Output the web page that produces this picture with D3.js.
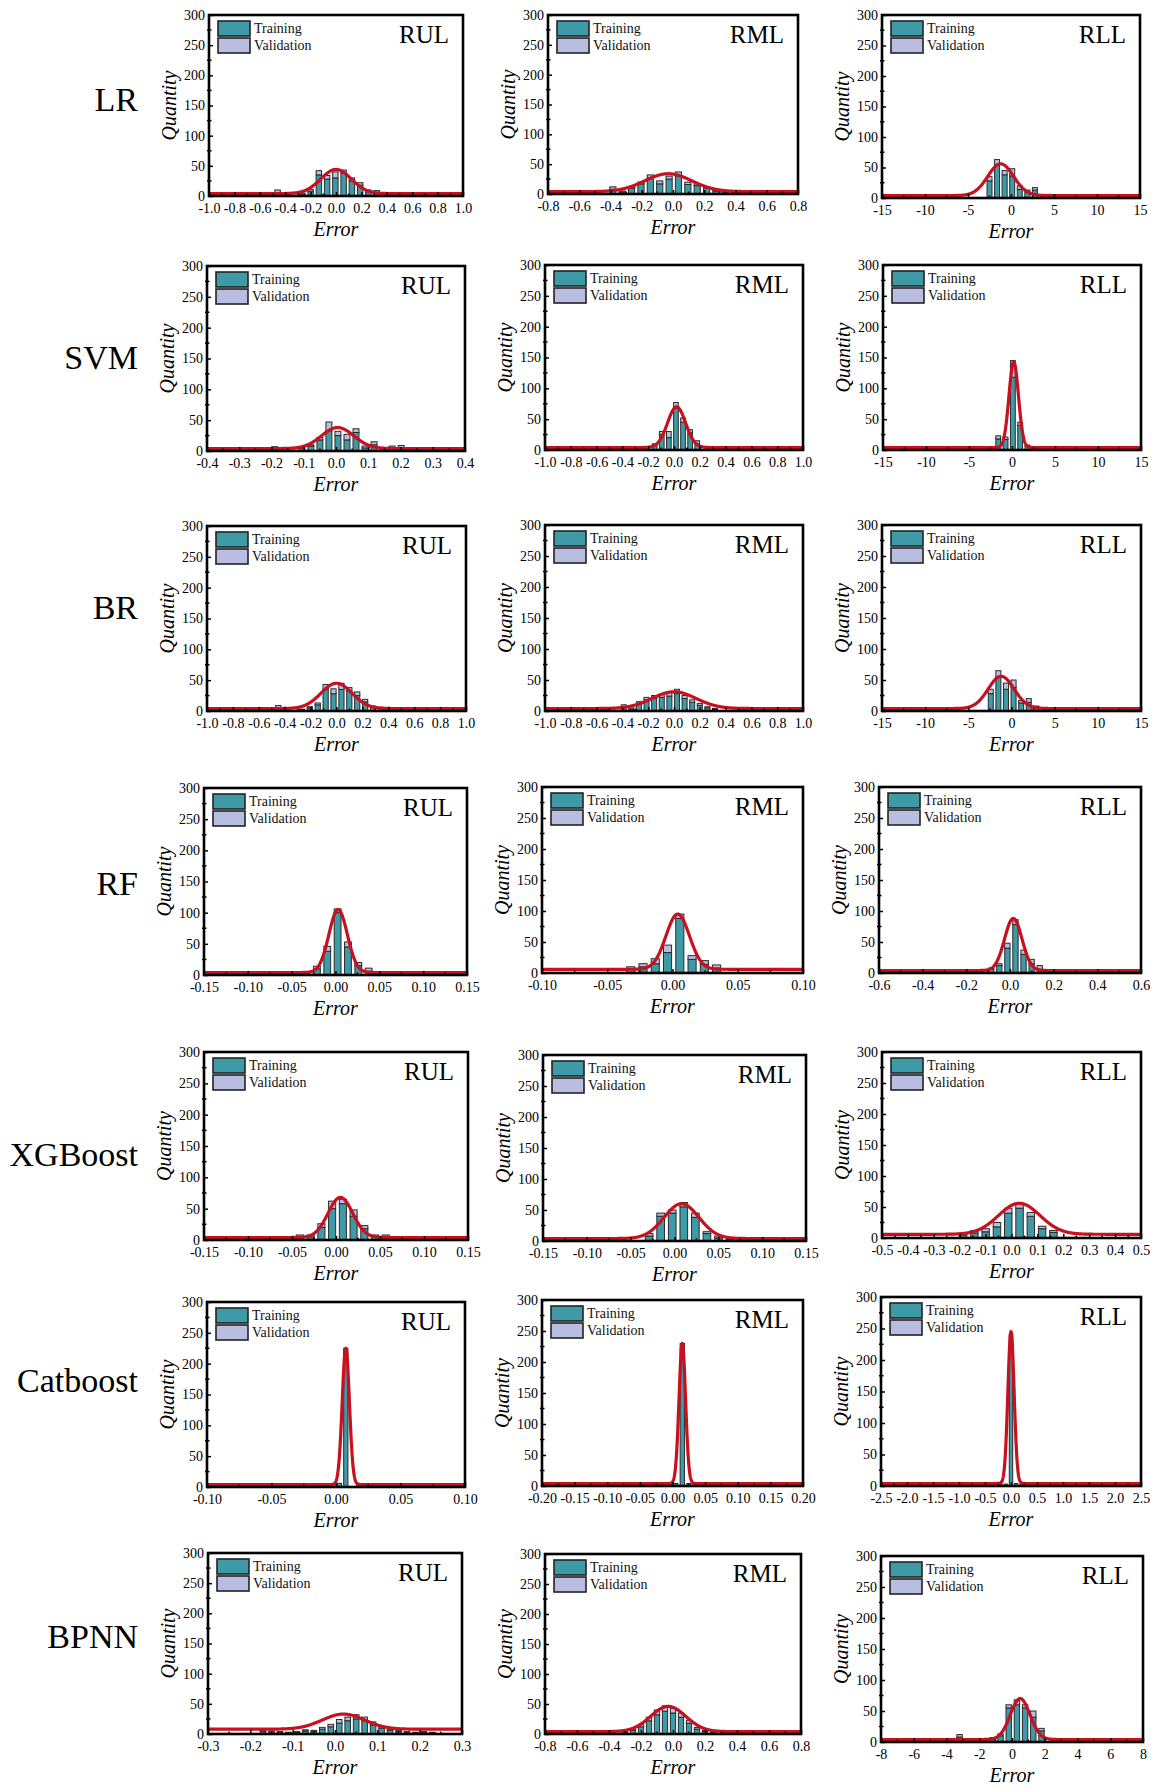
<!DOCTYPE html>
<html>
<head>
<meta charset="utf-8">
<script src="https://cdn.jsdelivr.net/npm/d3@7"></script>
<style>
  html, body { margin: 0; padding: 0; background: #fff; }
  svg { display: block; }
</style>
</head>
<body>
<div id="chart"></div>
<script>
// ---- Categories -------------------------------------------------------
const modelNames = ["LR", "SVM", "BR", "RF", "XGBoost", "Catboost", "BPNN"];
const lobeNames = ["RUL", "RML", "RLL"];
const seriesNames = ["Training", "Validation"];
const yTicks = [0, 50, 100, 150, 200, 250, 300];

// ---- Histogram counts (per lobe: RUL, RML, RLL) -------------------------
// bins: [first bin centre, bin width]; fit: [mean, sd, peak height, baseline]
const trainLR = [
  [5, 0, 0, 3, 8, 35, 28, 30, 38, 25, 18, 7, 5],
  [8, 3, 10, 17, 27, 17, 25, 30, 16, 14, 10, 5, 2, 2, 0, 0, 0, 0, 0, 3],
  [28, 55, 38, 36, 14, 10, 13, 0, 4]
];
const validLR = [
  [5, 0, 0, 2, 3, 7, 6, 10, 5, 5, 4, 3, 4],
  [4, 2, 2, 3, 5, 5, 5, 7, 4, 3, 2, 2, 1, 1, 0, 0, 0, 0, 0, 2],
  [7, 8, 7, 12, 6, 3, 4, 0, 2]
];
const binsLR = [[-0.46, 0.065], [-0.385, 0.06], [-2.5, 0.88]];
const fitLR = [[0.0, 0.12, 40, 4], [-0.03, 0.15, 30, 4], [-1.2, 1.5, 52, 4]];
const xTicksLR = [
  [-1.0, -0.8, -0.6, -0.4, -0.2, 0.0, 0.2, 0.4, 0.6, 0.8, 1.0],
  [-0.8, -0.6, -0.4, -0.2, 0.0, 0.2, 0.4, 0.6, 0.8],
  [-15, -10, -5, 0, 5, 10, 15]
];
const decLR = [1, 1, 0];

const trainSVM = [
  [4, 0, 0, 5, 8, 18, 33, 25, 18, 30, 5, 10, 2, 5, 5],
  [8, 25, 20, 68, 45, 28, 10],
  [18, 17, 118, 40, 6, 4]
];
const validSVM = [
  [3, 0, 0, 2, 2, 4, 14, 7, 9, 6, 3, 5, 1, 3, 4],
  [2, 5, 10, 9, 7, 5, 5],
  [5, 4, 27, 5, 2, 1]
];
const binsSVM = [[-0.19, 0.028], [-0.15, 0.055], [-1.6, 0.85]];
const fitSVM = [[0.005, 0.05, 34, 4], [0.02, 0.07, 66, 4], [0.2, 0.55, 139, 4]];
const xTicksSVM = [
  [-0.4, -0.3, -0.2, -0.1, 0.0, 0.1, 0.2, 0.3, 0.4],
  [-1.0, -0.8, -0.6, -0.4, -0.2, 0.0, 0.2, 0.4, 0.6, 0.8, 1.0],
  [-15, -10, -5, 0, 5, 10, 15]
];
const decSVM = [1, 1, 0];

const trainBR = [
  [5, 0, 0, 2, 5, 10, 35, 28, 35, 32, 25, 15, 6, 4],
  [7, 3, 12, 18, 20, 22, 24, 28, 20, 14, 9, 5, 3, 0, 0, 0, 0, 0, 0, 3],
  [28, 55, 35, 38, 13, 14, 6, 0, 2, 2, 0, 0, 0, 0, 0, 1]
];
const validBR = [
  [4, 0, 0, 1, 2, 3, 8, 8, 10, 6, 6, 4, 2, 2],
  [3, 2, 3, 4, 5, 5, 6, 7, 5, 4, 3, 2, 1, 0, 0, 0, 0, 0, 0, 1],
  [7, 10, 10, 12, 4, 6, 2, 0, 1, 1, 0, 0, 0, 0, 0, 1]
];
const binsBR = [[-0.45, 0.061], [-0.39, 0.059], [-2.4, 0.88]];
const fitBR = [[0.0, 0.12, 41, 4], [0.0, 0.17, 27, 4], [-1.2, 1.5, 52, 4]];
const xTicksBR = [
  [-1.0, -0.8, -0.6, -0.4, -0.2, 0.0, 0.2, 0.4, 0.6, 0.8, 1.0],
  [-1.0, -0.8, -0.6, -0.4, -0.2, 0.0, 0.2, 0.4, 0.6, 0.8, 1.0],
  [-15, -10, -5, 0, 5, 10, 15]
];
const decBR = [1, 1, 0];

const trainRF = [
  [3, 10, 38, 100, 45, 15, 6, 2],
  [7, 10, 15, 33, 88, 22, 14, 8],
  [6, 12, 40, 78, 30, 15, 6]
];
const validRF = [
  [2, 4, 8, 6, 8, 5, 5, 1],
  [3, 5, 8, 12, 7, 6, 6, 5],
  [2, 3, 8, 8, 7, 7, 6]
];
const binsRF = [[-0.033, 0.0118], [-0.032, 0.0094], [-0.086, 0.037]];
const fitRF = [[0.003, 0.0105, 101, 4], [0.004, 0.009, 89, 6], [0.015, 0.04, 84, 4]];
const xTicksRF = [
  [-0.15, -0.10, -0.05, 0.00, 0.05, 0.10, 0.15],
  [-0.10, -0.05, 0.00, 0.05, 0.10],
  [-0.6, -0.4, -0.2, 0.0, 0.2, 0.4, 0.6]
];
const decRF = [2, 2, 1];

const trainXGB = [
  [5, 5, 20, 50, 58, 38, 18, 5, 5],
  [8, 40, 45, 55, 38, 12, 5, 2],
  [5, 8, 10, 18, 40, 48, 35, 15, 9]
];
const validXGB = [
  [3, 3, 6, 12, 7, 10, 5, 3, 3],
  [4, 5, 5, 7, 7, 3, 3, 1],
  [3, 4, 5, 7, 8, 8, 6, 4, 3]
];
const binsXGB = [[-0.041, 0.0122], [-0.029, 0.0132], [-0.187, 0.0436]];
const fitXGB = [[0.005, 0.014, 64, 4], [0.008, 0.02, 56, 4], [0.03, 0.08, 50, 6]];
const xTicksXGB = [
  [-0.15, -0.10, -0.05, 0.00, 0.05, 0.10, 0.15],
  [-0.15, -0.10, -0.05, 0.00, 0.05, 0.10, 0.15],
  [-0.5, -0.4, -0.3, -0.2, -0.1, 0.0, 0.1, 0.2, 0.3, 0.4, 0.5]
];
const decXGB = [2, 2, 1];

const trainCat = [
  [2, 0, 3, 0, 3, 0, 3, 0, 0, 4, 6, 215, 0, 4, 0, 0, 0, 0, 0, 0, 2],
  [2, 3, 4, 220, 4, 3],
  [2, 3, 228, 4, 2]
];
const validCat = [
  [0, 0, 0, 0, 0, 0, 0, 0, 0, 0, 0, 10, 0, 0, 0, 0, 0, 0, 0, 0, 0],
  [0, 0, 0, 10, 0, 0],
  [0, 0, 12, 0, 0]
];
const binsCat = [[-0.0474, 0.005], [-0.015, 0.01], [-0.2, 0.1]];
const fitCat = [[0.0076, 0.0028, 221, 4], [0.015, 0.005, 226, 4], [0.0, 0.06, 241, 4]];
const xTicksCat = [
  [-0.10, -0.05, 0.00, 0.05, 0.10],
  [-0.20, -0.15, -0.10, -0.05, 0.00, 0.05, 0.10, 0.15, 0.20],
  [-2.5, -2.0, -1.5, -1.0, -0.5, 0.0, 0.5, 1.0, 1.5, 2.0, 2.5]
];
const decCat = [2, 2, 1];

const trainBP = [
  [4, 3, 3, 2, 3, 5, 4, 8, 12, 18, 22, 25, 22, 15, 10, 6, 4, 3, 2, 3, 2],
  [3, 6, 12, 22, 32, 38, 35, 28, 18, 8, 4, 2, 0, 0, 0, 3],
  [8, 0, 0, 0, 5, 10, 55, 60, 55, 40, 18]
];
const validBP = [
  [2, 2, 1, 1, 1, 2, 2, 3, 4, 6, 6, 7, 6, 5, 3, 2, 2, 1, 1, 1, 1],
  [1, 2, 4, 6, 8, 9, 8, 7, 5, 3, 2, 1, 0, 0, 0, 2],
  [4, 0, 0, 0, 2, 3, 5, 8, 5, 10, 4]
];
const binsBP = [[-0.17, 0.02], [-0.3, 0.05], [-3.2, 0.5]];
const fitBP = [[0.02, 0.05, 25, 8], [-0.03, 0.11, 42, 4], [0.5, 0.6, 66, 4]];
const xTicksBP = [
  [-0.3, -0.2, -0.1, 0.0, 0.1, 0.2, 0.3],
  [-0.8, -0.6, -0.4, -0.2, 0.0, 0.2, 0.4, 0.6, 0.8],
  [-8, -6, -4, -2, 0, 2, 4, 6, 8]
];
const decBP = [1, 1, 0];

// ---- Model table assembled from the arrays above ------------------------
const models = [
  { train: trainLR,  valid: validLR,  bins: binsLR,  fit: fitLR,  ticks: xTicksLR,  dec: decLR },
  { train: trainSVM, valid: validSVM, bins: binsSVM, fit: fitSVM, ticks: xTicksSVM, dec: decSVM },
  { train: trainBR,  valid: validBR,  bins: binsBR,  fit: fitBR,  ticks: xTicksBR,  dec: decBR },
  { train: trainRF,  valid: validRF,  bins: binsRF,  fit: fitRF,  ticks: xTicksRF,  dec: decRF },
  { train: trainXGB, valid: validXGB, bins: binsXGB, fit: fitXGB, ticks: xTicksXGB, dec: decXGB },
  { train: trainCat, valid: validCat, bins: binsCat, fit: fitCat, ticks: xTicksCat, dec: decCat },
  { train: trainBP,  valid: validBP,  bins: binsBP,  fit: fitBP,  ticks: xTicksBP,  dec: decBP }
];

// ---- Layout: plot boxes [left, right, top, bottom] ----------------------
const boxes = [
  [[209, 463, 15, 196],   [548, 798, 15, 194],   [882, 1140, 15, 198]],
  [[207, 465, 266, 451],  [545, 803, 265, 450],  [883, 1141, 265, 450]],
  [[207, 466, 526, 711],  [545, 803, 525, 711],  [882, 1141, 525, 711]],
  [[204, 467, 788, 975],  [542, 803, 787, 973],  [879, 1141, 787, 973]],
  [[204, 468, 1052, 1240],[543, 806, 1055, 1241],[882, 1141, 1052, 1238]],
  [[207, 465, 1302, 1487],[542, 803, 1300, 1486],[881, 1141, 1297, 1486]],
  [[208, 462, 1553, 1734],[545, 801, 1554, 1734],[881, 1143, 1556, 1742]]
];
const rowLabelY = [100, 358, 608, 884, 1155, 1381, 1637];

const W = 1157, H = 1790;
const SERIF = "'Liberation Serif', 'Times New Roman', Times, serif";
const COL_TRAIN = "#3d9aa6";
const COL_VALID = "#b9bde2";
const COL_FIT = "#c8101e";
const COL_EDGE = "#2b2b2b";

const svg = d3.select("#chart").append("svg")
  .attr("width", W).attr("height", H)
  .attr("viewBox", `0 0 ${W} ${H}`)
  .style("font-family", SERIF);

svg.append("rect").attr("width", W).attr("height", H).attr("fill", "#fff");

const fmt = (v, dec) => {
  const s = v.toFixed(dec);
  return s === "-0" || /^-0\.0+$/.test(s) ? s.slice(1) : s;
};

let clipCount = 0;

function drawPanel(m, r, c) {
  const [L, R, T, B] = boxes[r][c];
  const ticks = m.ticks[c];
  const dec = m.dec[c];
  const x = d3.scaleLinear().domain(d3.extent(ticks)).range([L, R]);
  const y = d3.scaleLinear().domain([0, 300]).range([B, T]);
  const g = svg.append("g");

  const clipId = "clip" + (clipCount++);
  g.append("clipPath").attr("id", clipId)
    .append("rect").attr("x", L).attr("y", T).attr("width", R - L).attr("height", B - T);

  // stacked histogram bars
  const [start, w] = m.bins[c];
  const bins = m.train[c].map((t, i) => ({ c: start + i * w, t: t, v: m.valid[c][i] }));
  const bw = Math.abs(x(w) - x(0)) * 0.66;
  const plot = g.append("g").attr("clip-path", `url(#${clipId})`);

  plot.selectAll("rect.train").data(bins.filter(d => d.t > 0)).join("rect")
    .attr("class", "train")
    .attr("x", d => x(d.c) - bw / 2)
    .attr("y", d => y(d.t))
    .attr("width", bw)
    .attr("height", d => y(0) - y(d.t))
    .attr("fill", COL_TRAIN)
    .attr("stroke", COL_EDGE).attr("stroke-width", 1);

  plot.selectAll("rect.valid").data(bins.filter(d => d.v > 0)).join("rect")
    .attr("class", "valid")
    .attr("x", d => x(d.c) - bw / 2)
    .attr("y", d => y(d.t + d.v))
    .attr("width", bw)
    .attr("height", d => y(d.t) - y(d.t + d.v))
    .attr("fill", COL_VALID)
    .attr("stroke", COL_EDGE).attr("stroke-width", 1);

  // fitted normal curve
  const [mu, sd, peak, base] = m.fit[c];
  const [d0, d1] = x.domain();
  const n = 1200;
  const pts = d3.range(n + 1).map(i => {
    const xv = d0 + (d1 - d0) * i / n;
    return [xv, base + peak * Math.exp(-((xv - mu) ** 2) / (2 * sd * sd))];
  });
  plot.append("path").datum(pts)
    .attr("d", d3.line().x(d => x(d[0])).y(d => y(d[1])).curve(d3.curveLinear))
    .attr("fill", "none").attr("stroke", COL_FIT)
    .attr("stroke-width", 3.2).attr("stroke-linejoin", "round");

  // axes
  const xAxis = g.append("g").attr("transform", `translate(0,${B})`)
    .call(d3.axisBottom(x).tickValues(ticks).tickFormat(v => fmt(v, dec))
      .tickSizeInner(-4).tickSizeOuter(0).tickPadding(7));
  xAxis.select(".domain").remove();
  xAxis.attr("font-family", SERIF).attr("font-size", 14);
  xAxis.selectAll("line").attr("stroke", "#000").attr("stroke-width", 1.5);
  xAxis.selectAll("text").attr("fill", "#000");

  const yAxis = g.append("g").attr("transform", `translate(${L},0)`)
    .call(d3.axisLeft(y).tickValues(yTicks).tickFormat(d3.format("d"))
      .tickSizeInner(-4).tickSizeOuter(0).tickPadding(4));
  yAxis.select(".domain").remove();
  yAxis.attr("font-family", SERIF).attr("font-size", 14);
  yAxis.selectAll("line").attr("stroke", "#000").attr("stroke-width", 1.5);
  yAxis.selectAll("text").attr("fill", "#000");

  // minor ticks
  const xMinor = d3.pairs(ticks).map(p => (p[0] + p[1]) / 2);
  g.selectAll("line.xminor").data(xMinor).join("line")
    .attr("x1", d => x(d)).attr("x2", d => x(d))
    .attr("y1", B).attr("y2", B - 2.5)
    .attr("stroke", "#000").attr("stroke-width", 1.5);
  const yMinor = d3.pairs(yTicks).map(p => (p[0] + p[1]) / 2);
  g.selectAll("line.yminor").data(yMinor).join("line")
    .attr("x1", L - 2).attr("x2", L + 2.5)
    .attr("y1", d => y(d)).attr("y2", d => y(d))
    .attr("stroke", "#000").attr("stroke-width", 1.5);

  // frame
  g.append("rect").attr("x", L).attr("y", T).attr("width", R - L).attr("height", B - T)
    .attr("fill", "none").attr("stroke", "#000").attr("stroke-width", 2.6);

  // legend
  const lx = L + 9;
  [[T + 6, COL_TRAIN, seriesNames[0]], [T + 23, COL_VALID, seriesNames[1]]].forEach(([ly, col, txt]) => {
    g.append("rect").attr("x", lx).attr("y", ly).attr("width", 32).attr("height", 15)
      .attr("fill", col).attr("stroke", "#222").attr("stroke-width", 1.6);
    g.append("text").attr("x", lx + 36).attr("y", ly + 12)
      .attr("font-size", 14).attr("fill", "#111").text(txt);
  });

  // lobe label
  g.append("text").attr("x", R - 14).attr("y", T + 28)
    .attr("text-anchor", "end").attr("font-size", 25).attr("fill", "#000")
    .text(lobeNames[c]);

  // axis titles
  g.append("text").attr("x", (L + R) / 2).attr("y", B + 40)
    .attr("text-anchor", "middle").attr("font-size", 20).attr("font-style", "italic")
    .attr("fill", "#000").text("Error");
  g.append("text")
    .attr("transform", `translate(${L - 40},${(T + B) / 2}) rotate(-90)`)
    .attr("text-anchor", "middle").attr("dominant-baseline", "central")
    .attr("font-size", 20).attr("font-style", "italic").attr("fill", "#000")
    .text("Quantity");
}

models.forEach((m, r) => {
  svg.append("text").attr("x", 138).attr("y", rowLabelY[r] + 11)
    .attr("text-anchor", "end").attr("font-size", 34).attr("fill", "#000")
    .text(modelNames[r]);
  lobeNames.forEach((_, c) => drawPanel(m, r, c));
});
</script>
</body>
</html>
